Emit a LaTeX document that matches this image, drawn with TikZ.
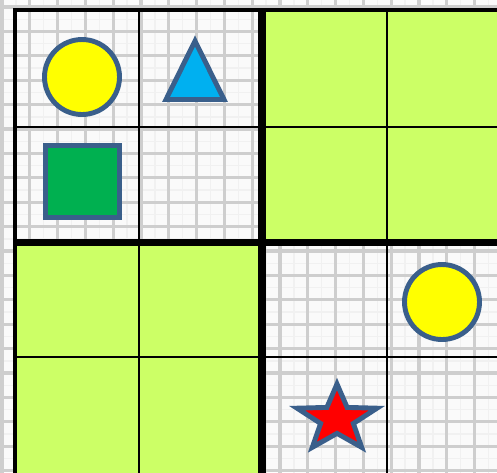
\documentclass[tikz,border=0pt]{standalone}
\usepackage{tikz}
\definecolor{paperline}{RGB}{190,190,190}
\definecolor{cellgreen}{RGB}{204,255,102}
\definecolor{shapeedge}{RGB}{58,95,139}
\definecolor{shapeyellow}{RGB}{255,255,0}
\definecolor{shapecyan}{RGB}{0,176,240}
\definecolor{shapegreen}{RGB}{0,176,80}
\definecolor{shapered}{RGB}{255,0,0}
\tikzset{
  thinrule/.style={line width=0.6pt},
  outerrule/.style={line width=0.95pt},
  boxrule/.style={line width=2pt},
  piece/.style={draw=shapeedge,line width=1.4pt}
}

\begin{document}
\begin{tikzpicture}
        \useasboundingbox (0,0) rectangle (4.97,4.72);
        \clip (0,0) rectangle (4.97,4.72);
        \fill[white!98!black] (0,0) rectangle (4.97,4.72);
        \draw[paperline!22,line width=0.4pt,shift={(0.02,0.014)},xstep=0.139,ystep=0.122] (-0.2,-0.2) grid (5.2,4.9);
        \draw[paperline!75,line width=0.9pt,shift={(0.02,0.014)},xstep=0.278,ystep=0.244] (-0.2,-0.2) grid (5.2,4.9);
        \fill[cellgreen] (2.62,2.30) rectangle (5.1,4.62);
        \fill[cellgreen] (0.15,-0.1) rectangle (2.62,2.30);
        \draw[thinrule] (1.39,4.62)--(1.39,-0.1);
        \draw[thinrule] (3.87,4.62)--(3.87,-0.1);
        \draw[thinrule] (0.15,3.45)--(5.1,3.45);
        \draw[thinrule] (0.15,1.15)--(5.1,1.15);
        \draw[outerrule] (5.1,4.62)--(0.15,4.62)--(0.15,-0.1);
        \draw[boxrule] (2.62,4.62)--(2.62,-0.1);
        \draw[boxrule] (0.15,2.30)--(5.1,2.30);
        \filldraw[piece,fill=shapeyellow] (0.82,3.95) circle (0.375);
        \filldraw[piece,fill=shapecyan] (1.66,3.725)--(2.24,3.725)--(1.95,4.31)--cycle;
        \filldraw[piece,fill=shapegreen] (0.455,2.545) rectangle (1.195,3.265);
        \filldraw[piece,fill=shapeyellow] (4.42,1.70) circle (0.375);
        \filldraw[piece,fill=shapered,shift={(3.37,0.53)},xscale=0.42,yscale=0.35]
          (90:1)--(126:0.41)--(162:1)--(198:0.41)--(234:1)--(270:0.41)--(306:1)--(342:0.41)--(18:1)--(54:0.41)--cycle;
      \end{tikzpicture}
\end{document}
